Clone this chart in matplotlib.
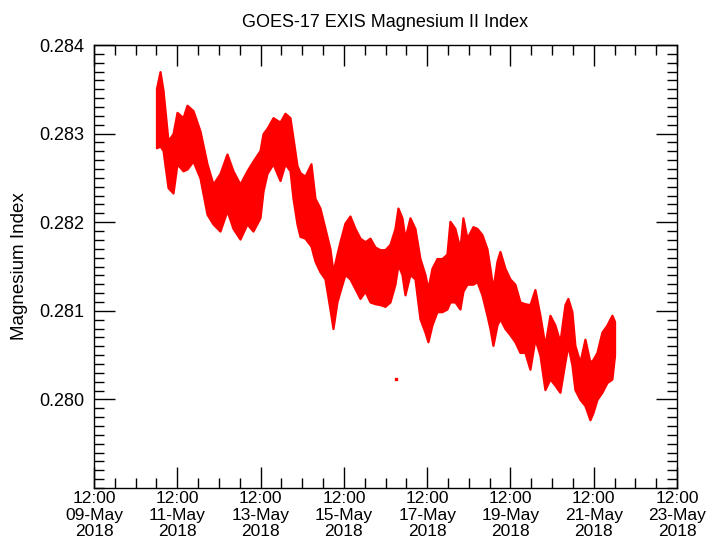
import matplotlib

matplotlib.use("Agg")
import matplotlib.pyplot as plt
import matplotlib.dates as mdates
from matplotlib.ticker import MultipleLocator, FixedLocator
import numpy as np
import pandas as pd

# envelope of the EXIS Mg II samples
# time as fractional day of May 2018
day_of_may = [
    11.00, 11.085, 11.157, 11.277, 11.397, 11.493, 11.637, 11.733, 11.877, 12.045,
    12.213, 12.357, 12.525, 12.693, 12.837, 13.005, 13.173, 13.317, 13.486, 13.558,
    13.654, 13.798, 13.966, 14.086, 14.206, 14.278, 14.374, 14.446, 14.566, 14.710,
    14.806, 14.926, 15.046, 15.166, 15.238, 15.334, 15.406, 15.526, 15.646, 15.767,
    15.887, 16.007, 16.127, 16.247, 16.367, 16.487, 16.607, 16.727, 16.799, 16.895,
    16.967, 17.087, 17.207, 17.327, 17.447, 17.519, 17.615, 17.735, 17.855, 17.975,
    18.047, 18.167, 18.287, 18.359, 18.456, 18.600, 18.696, 18.816, 18.936, 19.008,
    19.080, 19.176, 19.248, 19.368, 19.488, 19.608, 19.728, 19.848, 19.968, 20.088,
    20.208, 20.328, 20.448, 20.568, 20.688, 20.808, 20.880, 20.976, 21.048, 21.168,
    21.289, 21.409, 21.481, 21.577, 21.697, 21.817, 21.937, 22.00,
]
mg_high = [
    0.28351, 0.28370, 0.28349, 0.28292, 0.28300, 0.28324, 0.28318, 0.28332, 0.28326, 0.28303,
    0.28266, 0.28243, 0.28255, 0.28277, 0.28258, 0.28243, 0.28258, 0.28269, 0.28281, 0.28300,
    0.28306, 0.28318, 0.28313, 0.28323, 0.28318, 0.28295, 0.28264, 0.28256, 0.28252, 0.28266,
    0.28227, 0.28216, 0.28193, 0.28170, 0.28144, 0.28164, 0.28178, 0.28199, 0.28207, 0.28193,
    0.28182, 0.28178, 0.28182, 0.28172, 0.28169, 0.28169, 0.28175, 0.28193, 0.28216, 0.28205,
    0.28182, 0.28205, 0.28193, 0.28159, 0.28141, 0.28125, 0.28148, 0.28159, 0.28159, 0.28164,
    0.28201, 0.28193, 0.28170, 0.28205, 0.28182, 0.28195, 0.28193, 0.28186, 0.28170, 0.28148,
    0.28125, 0.28156, 0.28167, 0.28148, 0.28136, 0.28130, 0.28110, 0.28108, 0.28107, 0.28124,
    0.28095, 0.28061, 0.28095, 0.28084, 0.28065, 0.28107, 0.28114, 0.28099, 0.28061, 0.28042,
    0.28068, 0.28042, 0.28045, 0.28053, 0.28076, 0.28084, 0.28095, 0.28088,
]
mg_low = [
    0.28284, 0.28286, 0.28281, 0.28239, 0.28233, 0.28266, 0.28258, 0.28260, 0.28269, 0.28250,
    0.28209, 0.28198, 0.28190, 0.28213, 0.28193, 0.28181, 0.28198, 0.28190, 0.28205, 0.28235,
    0.28255, 0.28266, 0.28247, 0.28266, 0.28258, 0.28227, 0.28198, 0.28184, 0.28182, 0.28173,
    0.28156, 0.28144, 0.28136, 0.28102, 0.28080, 0.28110, 0.28122, 0.28141, 0.28136, 0.28125,
    0.28114, 0.28122, 0.28110, 0.28108, 0.28107, 0.28105, 0.28110, 0.28130, 0.28152, 0.28141,
    0.28118, 0.28141, 0.28136, 0.28091, 0.28076, 0.28065, 0.28084, 0.28099, 0.28099, 0.28102,
    0.28110, 0.28110, 0.28102, 0.28122, 0.28130, 0.28130, 0.28133, 0.28118, 0.28095, 0.28080,
    0.28061, 0.28084, 0.28091, 0.28080, 0.28073, 0.28065, 0.28053, 0.28053, 0.28034, 0.28068,
    0.28050, 0.28011, 0.28023, 0.28016, 0.28008, 0.28042, 0.28061, 0.28039, 0.28011, 0.28000,
    0.27993, 0.27977, 0.27985, 0.28000, 0.28008, 0.28019, 0.28023, 0.28050,
]
# single stray sample below the band
outlier_day = [16.75]
outlier_mg = [0.28023]

y_ticks = [0.280, 0.281, 0.282, 0.283, 0.284]


def to_time(days):
    return pd.Timestamp("2018-05-01") + pd.to_timedelta(np.array(days) - 1.0, unit="D")


plt.rcParams["font.family"] = ["Liberation Sans", "DejaVu Sans"]

fig = plt.figure(figsize=(7.21, 5.45), dpi=100)
ax = fig.add_axes([0.1304, 0.1046, 0.8086, 0.8128])

t = to_time(day_of_may)
ax.fill_between(t, mg_low, mg_high, color="#ff0000", linewidth=1.6, edgecolor="#ff0000")
ax.plot(to_time(outlier_day), outlier_mg, "s", color="#ff0000", markersize=1.8)

ax.set_xlim(pd.Timestamp("2018-05-09 12:00"), pd.Timestamp("2018-05-23 12:00"))
ax.set_ylim(0.279, 0.284)

major_x = pd.date_range("2018-05-09 12:00", "2018-05-23 12:00", freq="2D")
ax.xaxis.set_major_locator(FixedLocator(mdates.date2num(major_x)))
ax.xaxis.set_minor_locator(mdates.HourLocator(byhour=[0, 12]))
ax.xaxis.set_major_formatter(mdates.DateFormatter("%H:%M\n%d-%b\n%Y"))

ax.yaxis.set_major_locator(FixedLocator(y_ticks))
ax.yaxis.set_minor_locator(MultipleLocator(0.0001))
ax.yaxis.set_major_formatter(matplotlib.ticker.FormatStrFormatter("%.3f"))

ax.tick_params(which="both", direction="in", top=True, right=True, colors="black", labelsize=13)
ax.tick_params(which="major", length=15, width=1.0)
ax.tick_params(which="minor", length=7, width=1.0)
ax.tick_params(axis="x", pad=2, labelsize=12.5)
ax.tick_params(axis="y", pad=7)
for lbl in ax.get_xticklabels():
    lbl.set_linespacing(1.15)
for spine in ax.spines.values():
    spine.set_linewidth(1.0)

ax.set_ylabel("Magnesium Index", fontsize=13.5, labelpad=8)
ax.set_title("GOES-17 EXIS Magnesium II Index", fontsize=13, pad=13)

fig.savefig("out.png", dpi=100)
